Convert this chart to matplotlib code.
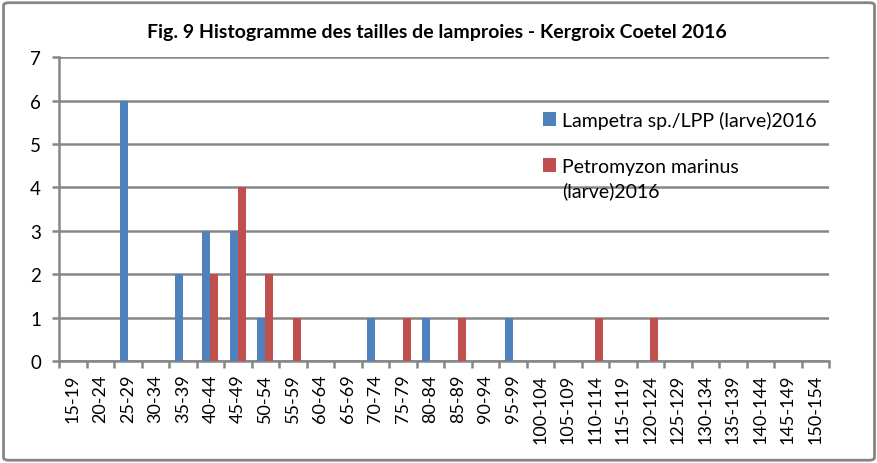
import numpy as np
import matplotlib
matplotlib.use("Agg")
import matplotlib.pyplot as plt
from matplotlib.patches import FancyBboxPatch

# size classes (mm)
classes = ["15-19", "20-24", "25-29", "30-34", "35-39", "40-44", "45-49", "50-54",
           "55-59", "60-64", "65-69", "70-74", "75-79", "80-84", "85-89", "90-94",
           "95-99", "100-104", "105-109", "110-114", "115-119", "120-124", "125-129",
           "130-134", "135-139", "140-144", "145-149", "150-154"]

lampetra = [0, 0, 6, 0, 2, 3, 3, 1, 0, 0, 0, 1, 0, 1, 0, 0,
            1, 0, 0, 0, 0, 0, 0, 0, 0, 0, 0, 0]
petromyzon = [0, 0, 0, 0, 0, 2, 4, 2, 1, 0, 0, 0, 1, 0, 1, 0,
              0, 0, 0, 1, 0, 1, 0, 0, 0, 0, 0, 0]

label_lamp = "Lampetra sp./LPP (larve)2016"
label_petro = "Petromyzon marinus\n(larve)2016"
title = "Fig. 9 Histogramme des tailles de lamproies - Kergroix Coetel 2016"

plt.rcParams['font.family'] = ['Lato', 'DejaVu Sans']
grey = "#868686"

fig = plt.figure(figsize=(8.78, 4.64), dpi=100)
ax = fig.add_axes([0.0672, 0.2198, 0.877, 0.655])

# frame around the whole chart
frame = FancyBboxPatch((0.004, 0.006), 0.992, 0.986, boxstyle="round,pad=0,rounding_size=0.006",
                       transform=fig.transFigure, fill=False, edgecolor=grey, linewidth=2)
fig.patches.append(frame)

x = np.arange(len(classes))
w = 0.29
ax.bar(x - w / 2, lampetra, width=w, color="#4F81BD", label=label_lamp, zorder=3)
ax.bar(x + w / 2, petromyzon, width=w, color="#C0504D", label=label_petro, zorder=3)

ax.set_xlim(-0.5, len(classes) - 0.5)
ax.set_ylim(0, 7)
ax.set_yticks(range(0, 8))
ax.yaxis.grid(True, color=grey, linewidth=1.8, zorder=0)

ax.set_xticks(x)
ax.set_xticklabels(classes, rotation=90, fontsize=13)
ax.set_xticks(np.arange(-0.5, len(classes)), minor=True)
ax.tick_params(axis='x', which='major', length=0, pad=9)
ax.tick_params(axis='x', which='minor', length=5, width=1.8, color=grey)
ax.tick_params(axis='y', length=5, width=1.8, color=grey, labelsize=13.5, pad=8)

for s in ["top", "right"]:
    ax.spines[s].set_visible(False)
for s in ["left", "bottom"]:
    ax.spines[s].set_color(grey)
    ax.spines[s].set_linewidth(1.8)

fig.text(0.498, 0.93, title, ha="center", va="center", fontsize=14, fontweight="bold")

leg = ax.legend(loc="upper left", bbox_to_anchor=(0.618, 0.85), frameon=False,
                fontsize=14, handlelength=0.7, handleheight=0.7, handletextpad=0.3,
                labelspacing=1.5, borderaxespad=0)
for t in leg.get_texts():
    t.set_linespacing(1.45)
# align the second square with the first line of its label
leg.legend_handles[1].set_y(leg.legend_handles[1].get_y() + 10)

fig.savefig("out.png", dpi=100)
